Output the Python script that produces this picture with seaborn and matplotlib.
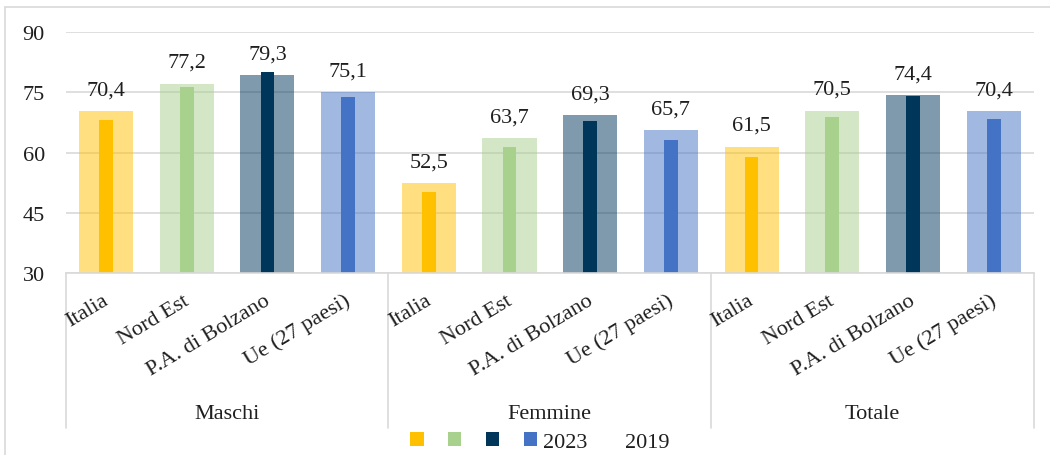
import pandas as pd
import numpy as np
import matplotlib.pyplot as plt
import seaborn as sns
from matplotlib.patches import Patch
from matplotlib.lines import Line2D

# Dati
gruppi = ['Maschi', 'Femmine', 'Totale']
regioni = ['Italia', 'Nord Est', 'P.A. di Bolzano', 'Ue (27 paesi)']
valori_2023 = [70.4, 77.2, 79.3, 75.1,
               52.5, 63.7, 69.3, 65.7,
               61.5, 70.5, 74.4, 70.4]
valori_2019 = [68.1, 76.4, 80.1, 73.9,
               50.3, 61.5, 67.9, 63.2,
               58.9, 68.9, 74.1, 68.4]
colori = ['#FFC000', '#A9D18E', '#00365A', '#4472C4']

sns.set_theme(style='white')
plt.rcParams['font.family'] = ['Liberation Serif', 'DejaVu Serif']
TESTO = '#1f1f1f'
GRIGIO = '#d9d9d9'
FS = 16

df = pd.DataFrame({
    'gruppo': np.repeat(gruppi, len(regioni)),
    'regione': regioni * len(gruppi),
    'v2023': valori_2023,
    'v2019': valori_2019,
})
df['slot'] = df['gruppo'] + ' | ' + df['regione']
ordine = list(df['slot'])
palette = dict(zip(regioni, colori))

W, H = 1050, 456
fig = plt.figure(figsize=(W / 100, H / 100), dpi=100)
x0, x1, y_top, y_bot = 65.7, 1034, 33.3, 274
ax = fig.add_axes([x0 / W, 1 - y_bot / H, (x1 - x0) / W, (y_bot - y_top) / H])
ax.set_axisbelow(True)

# barre larghe (2023, semitrasparenti) e barre strette (2019)
sns.barplot(data=df, x='slot', y='v2023', hue='regione', order=ordine,
            palette=palette, dodge=False, width=0.67, alpha=0.5, saturation=1,
            errorbar=None, legend=False, ax=ax, linewidth=0)
sns.barplot(data=df, x='slot', y='v2019', hue='regione', order=ordine,
            palette=palette, dodge=False, width=0.17, saturation=1,
            errorbar=None, legend=False, ax=ax, linewidth=0)

ax.set_ylim(30, 90)
ax.set_xlim(-0.5, len(ordine) - 0.5)
ax.set_yticks([30, 45, 60, 75, 90])
ax.tick_params(axis='y', length=0, pad=15, labelsize=FS, labelcolor=TESTO)
ax.set_xticks([])
ax.set_xlabel('')
ax.set_ylabel('')
ax.yaxis.grid(True, color=GRIGIO, linewidth=1.2)
for s in ['top', 'right', 'left']:
    ax.spines[s].set_visible(False)
ax.spines['bottom'].set_color(GRIGIO)
ax.spines['bottom'].set_linewidth(1.2)

# etichette dei valori
for i, v in enumerate(valori_2023):
    ax.annotate(f'{v:.1f}'.replace('.', ','), (i, v), xytext=(0, 12),
                textcoords='offset points', ha='center', va='baseline',
                fontsize=FS, color=TESTO)

# etichette categorie e gruppi
trans = ax.get_xaxis_transform()
altezza = y_bot - y_top
for i, r in enumerate(regioni * len(gruppi)):
    ax.text(i + 0.04, -(304 - y_bot) / altezza, r, transform=trans,
            rotation=31, rotation_mode='anchor', ha='right', va='baseline',
            fontsize=FS, color=TESTO)
for g, nome in enumerate(gruppi):
    centro = g * len(regioni) + (len(regioni) - 1) / 2
    ax.text(centro, -(415 - y_bot) / altezza, nome, transform=trans,
            ha='center', va='center', fontsize=FS, color=TESTO)
for g in range(len(gruppi) + 1):
    xs = g * len(regioni) - 0.5
    ax.plot([xs, xs], [0, -(429 - y_bot) / altezza], transform=trans,
            color=GRIGIO, linewidth=1.2, clip_on=False)

# legenda
handles = [Patch(facecolor=c, edgecolor='none') for c in colori]
handles.append(Patch(facecolor='none', edgecolor='none'))
labels = ['', '', '', '2023', '2019']
fig.legend(handles, labels, loc='center', bbox_to_anchor=(540 / W, 1 - 443 / H),
           ncol=5, frameon=False, fontsize=FS, handlelength=0.6,
           handleheight=0.6, handletextpad=0.28, columnspacing=0.82,
           labelcolor=TESTO, borderpad=0)

# bordo esterno del grafico
fig.add_artist(Line2D([5 / W, 1], [1 - 8 / H, 1 - 8 / H], color=GRIGIO, linewidth=1.2))
fig.add_artist(Line2D([5 / W, 5 / W], [0, 1 - 8 / H], color=GRIGIO, linewidth=1.2))

plt.savefig('out.png', dpi=100)
plt.close()
